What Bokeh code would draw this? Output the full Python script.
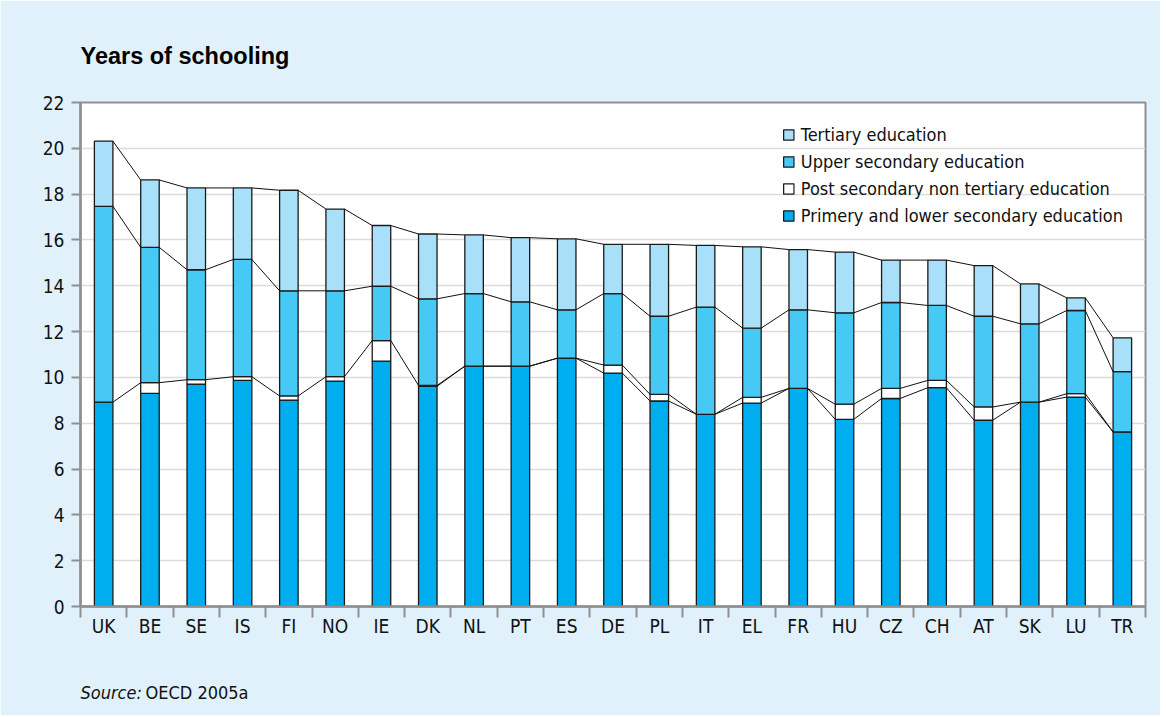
from bokeh.plotting import figure
from bokeh.models import Range1d, FixedTicker, Legend, LegendItem, Title, ColumnDataSource
from bokeh.embed import file_html
from bokeh.resources import INLINE

countries = ["UK", "BE", "SE", "IS", "FI", "NO", "IE", "DK", "NL", "PT", "ES", "DE",
             "PL", "IT", "EL", "FR", "HU", "CZ", "CH", "AT", "SK", "LU", "TR"]
primary = [8.92, 9.30, 9.71, 9.87, 9.01, 9.84, 10.71, 9.61, 10.49, 10.49, 10.84, 10.19,
           8.97, 8.39, 8.88, 9.52, 8.17, 9.08, 9.55, 8.13, 8.92, 9.14, 7.62]
post = [0.00, 0.47, 0.19, 0.16, 0.18, 0.19, 0.90, 0.04, 0.00, 0.00, 0.00, 0.35,
        0.29, 0.00, 0.25, 0.00, 0.66, 0.44, 0.32, 0.58, 0.00, 0.15, 0.00]
upper = [8.55, 5.91, 4.80, 5.12, 4.59, 3.75, 2.37, 3.78, 3.17, 2.81, 2.11, 3.12,
         3.41, 4.68, 3.02, 3.43, 3.99, 3.75, 3.27, 3.96, 3.42, 3.63, 2.63]
tertiary = [2.84, 2.94, 3.57, 3.12, 4.39, 3.57, 2.65, 2.83, 2.56, 2.80, 3.10, 2.15,
            3.14, 2.69, 3.55, 2.63, 2.65, 1.85, 1.98, 2.21, 1.74, 0.55, 1.48]

series = ["primary", "post", "upper", "tertiary"]
series_labels = ["Primery and lower secondary education",
                 "Post secondary non tertiary education",
                 "Upper secondary education",
                 "Tertiary education"]
colors = ["#00AEEF", "#FFFFFF", "#47C9F5", "#A9E0F9"]
y_ticks = list(range(0, 23, 2))

FONT = "DejaVu Sans Condensed"
BG = "#E1F1FB"
GRAY = "#8f8f8f"
BAR_W = 0.4

x = list(range(len(countries)))
src = ColumnDataSource(dict(x=x, primary=primary, post=post, upper=upper, tertiary=tertiary))

p = figure(width=1160, height=715, output_backend="svg", toolbar_location=None,
           x_range=Range1d(-0.5, len(countries) - 0.5), y_range=Range1d(0, 22),
           min_border_left=80, min_border_right=15, min_border_top=102, min_border_bottom=109)
p.border_fill_color = BG
p.background_fill_color = "white"
p.outline_line_color = GRAY
p.outline_line_width = 2

p.title.text = "Years of schooling"
p.title.align = "left"
p.title.text_font = "Liberation Sans"
p.title.text_font_style = "bold"
p.title.text_font_size = "23.5px"
p.title.text_color = "#000000"
p.title.standoff = 68

renderers = p.vbar_stack(series, x="x", width=BAR_W, color=colors, line_color="#1a1a1a",
                         line_width=1.3, source=src)

# connecting lines between adjacent bars at cumulative levels
c_prim = primary
c_post = [a + b for a, b in zip(primary, post)]
c_upper = [a + b for a, b in zip(c_post, upper)]
c_total = [a + b for a, b in zip(c_upper, tertiary)]
n = len(countries)
levels = [(c_post, 0), (c_upper, 0), (c_total, 0), (c_prim, 7)]
x0s, x1s, y0s, y1s = [], [], [], []
for lev, start in levels:
    for i in range(start, n - 1):
        x0s.append(i + BAR_W / 2)
        x1s.append(i + 1 - BAR_W / 2)
        y0s.append(lev[i])
        y1s.append(lev[i + 1])
p.segment(x0=x0s, y0=y0s, x1=x1s, y1=y1s, line_color="#111111", line_width=1)

# grid
p.xgrid.visible = False
p.ygrid.ticker = FixedTicker(ticks=y_ticks)
p.ygrid.grid_line_color = "#dcdcdc"
p.ygrid.grid_line_width = 1.5

# y axis
p.yaxis.ticker = FixedTicker(ticks=y_ticks)
p.yaxis.axis_line_color = GRAY
p.yaxis.axis_line_width = 2.5
p.yaxis.major_tick_line_color = GRAY
p.yaxis.major_tick_line_width = 2
p.yaxis.major_tick_out = 9
p.yaxis.major_tick_in = 0
p.yaxis.minor_tick_line_color = None
p.yaxis.major_label_standoff = 7
p.yaxis.major_label_text_font = FONT
p.yaxis.major_label_text_font_size = "19px"
p.yaxis.major_label_text_color = "#111111"

# x axis
p.xaxis.ticker = FixedTicker(ticks=x, minor_ticks=[i - 0.5 for i in range(n + 1)])
p.xaxis.major_label_overrides = {i: c for i, c in enumerate(countries)}
p.xaxis.axis_line_color = GRAY
p.xaxis.axis_line_width = 2.5
p.xaxis.major_tick_out = 0
p.xaxis.major_tick_in = 0
p.xaxis.major_tick_line_color = None
p.xaxis.minor_tick_out = 11
p.xaxis.minor_tick_in = 0
p.xaxis.minor_tick_line_color = GRAY
p.xaxis.minor_tick_line_width = 2
p.xaxis.major_label_standoff = -3
p.xaxis.major_label_text_font = FONT
p.xaxis.major_label_text_font_size = "19px"
p.xaxis.major_label_text_color = "#111111"

# legend (reverse order)
items = [LegendItem(label=series_labels[k], renderers=[renderers[k]]) for k in (3, 2, 1, 0)]
legend = Legend(items=items, location="top_right", label_text_font=FONT,
                label_text_font_size="18px", label_text_color="#111111",
                glyph_width=13, glyph_height=13, label_height=20, spacing=6,
                padding=8, margin=14, label_standoff=6,
                background_fill_alpha=0, border_line_alpha=0)
p.add_layout(legend, "center")

# source line: two titles sharing one row below the axis
SRC_STANDOFF = -126
p.add_layout(Title(text="Source:", align="left", vertical_align="bottom",
                   standoff=SRC_STANDOFF, offset=0,
                   text_font=FONT, text_font_style="italic", text_font_size="18px",
                   text_color="#111111"), "below")
p.add_layout(Title(text="OECD 2005a", align="left", vertical_align="bottom",
                   standoff=SRC_STANDOFF, offset=65,
                   text_font=FONT, text_font_style="normal", text_font_size="18px",
                   text_color="#111111"), "below")

open("out.html", "w").write(file_html(p, INLINE))
